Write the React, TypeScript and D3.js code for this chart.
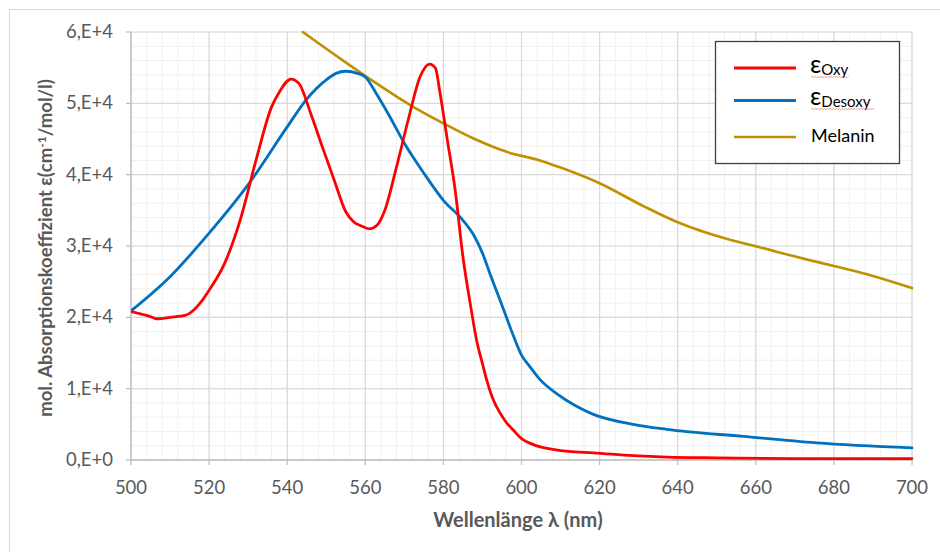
import React from "react";
import * as d3 from "d3";

const oxyNm = [500, 503, 505, 506.5, 510, 514, 516, 518, 520, 524, 528, 532, 536, 538, 541, 543, 546, 549, 552, 555, 557, 559, 561, 563, 565, 568, 571, 574, 576.5, 578, 579, 581, 583, 585, 587, 588.5, 590, 591.1, 592.8, 594.5, 596.2, 597.9, 600, 602, 605, 608, 612, 618.4, 628.6, 637.2, 650, 670, 700];
const oxyVal = [2.08, 2.04, 2.01, 1.98, 2.0, 2.03, 2.1, 2.22, 2.38, 2.76, 3.37, 4.2, 4.95, 5.16, 5.34, 5.28, 4.86, 4.39, 3.93, 3.48, 3.34, 3.28, 3.24, 3.29, 3.5, 4.11, 4.77, 5.37, 5.55, 5.49, 5.19, 4.49, 3.79, 2.85, 2.15, 1.68, 1.35, 1.12, 0.84, 0.66, 0.52, 0.42, 0.3, 0.24, 0.18, 0.15, 0.12, 0.1, 0.06, 0.04, 0.03, 0.02, 0.02];

const desoxyNm = [500, 510, 520, 530, 540, 545, 550, 552.5, 555, 558, 560, 563, 566, 570, 575, 580, 585, 588, 590, 592, 595, 598, 600, 602, 604.7, 609, 613.5, 618.4, 628.6, 637.2, 656.8, 675.6, 700];
const desoxyVal = [2.09, 2.57, 3.18, 3.86, 4.67, 5.06, 5.33, 5.42, 5.45, 5.42, 5.37, 5.12, 4.84, 4.44, 4.02, 3.64, 3.36, 3.13, 2.9, 2.6, 2.17, 1.73, 1.47, 1.32, 1.13, 0.93, 0.77, 0.64, 0.5, 0.43, 0.33, 0.24, 0.17];

const melaninNm = [544, 553.5, 561.2, 571.4, 580, 587.6, 596.2, 604.7, 610, 620, 631.2, 639.7, 652.5, 661.1, 673.9, 680, 690, 700];
const melaninVal = [6.0, 5.63, 5.34, 4.98, 4.72, 4.51, 4.32, 4.2, 4.1, 3.88, 3.56, 3.34, 3.1, 2.98, 2.8, 2.72, 2.58, 2.41];

const xTicks = [500, 520, 540, 560, 580, 600, 620, 640, 660, 680, 700];
const yTicks = [0, 1, 2, 3, 4, 5, 6];
const yTickLabels = ["0,E+0", "1,E+4", "2,E+4", "3,E+4", "4,E+4", "5,E+4", "6,E+4"];

const FONT = "Lato, 'Open Sans', sans-serif";

export default function App() {
  const left = 131, right = 912, top = 32, bottom = 460;
  const x = d3.scaleLinear().domain([500, 700]).range([left, right]);
  const y = d3.scaleLinear().domain([0, 6]).range([bottom, top]);

  const line = d3
    .line<[number, number]>()
    .x((d) => x(d[0]))
    .y((d) => y(d[1]))
    .curve(d3.curveMonotoneX);

  const zip = (a: number[], b: number[]) => a.map((v, i) => [v, b[i]] as [number, number]);

  const minorX = d3.range(500, 700.01, 4);
  const minorY = d3.range(0, 6.001, 0.2);

  const wavy = (x0: number, x1: number, yy: number) => {
    let p = `M${x0},${yy}`;
    let up = true;
    for (let xx = x0 + 1.5; xx <= x1; xx += 1.5) {
      p += ` L${xx},${yy + (up ? -0.8 : 0.8)}`;
      up = !up;
    }
    return p;
  };

  return (
    <svg width={940} height={552} style={{ position: "absolute", left: 0, top: 0, background: "#fff" }}>
      <rect x={9.5} y={9.5} width={940} height={560} fill="#fff" stroke="#d9d9d9" strokeWidth={1} />
      <defs>
        <clipPath id="plot">
          <rect x={left} y={top - 1} width={right - left + 2} height={bottom - top + 2} />
        </clipPath>
      </defs>
      {minorX.map((v) => (
        <line key={"mx" + v} x1={x(v)} x2={x(v)} y1={top} y2={bottom} stroke="#f0f0f0" strokeWidth={1} />
      ))}
      {minorY.map((v) => (
        <line key={"my" + v} x1={left} x2={right} y1={y(v)} y2={y(v)} stroke="#f0f0f0" strokeWidth={1} />
      ))}
      {xTicks.map((v) => (
        <line key={"gx" + v} x1={x(v)} x2={x(v)} y1={top} y2={bottom} stroke="#d9d9d9" strokeWidth={1.2} />
      ))}
      {yTicks.map((v) => (
        <line key={"gy" + v} x1={left} x2={right} y1={y(v)} y2={y(v)} stroke="#d9d9d9" strokeWidth={1.2} />
      ))}
      <line x1={left} x2={left} y1={top} y2={bottom} stroke="#bfbfbf" strokeWidth={1.3} />
      <line x1={left} x2={right} y1={bottom} y2={bottom} stroke="#bfbfbf" strokeWidth={1.3} />
      {yTicks.map((v) => (
        <line key={"ty" + v} x1={left - 5} x2={left} y1={y(v)} y2={y(v)} stroke="#bfbfbf" strokeWidth={1.3} />
      ))}
      {xTicks.map((v) => (
        <line key={"tx" + v} x1={x(v)} x2={x(v)} y1={bottom} y2={bottom + 5} stroke="#bfbfbf" strokeWidth={1.3} />
      ))}
      {yTicks.map((v, i) => (
        <text key={"ly" + v} x={113} y={y(v) + 6} textAnchor="end" fontFamily={FONT} fontSize={18.5} fill="#595959">
          {yTickLabels[i]}
        </text>
      ))}
      {xTicks.map((v) => (
        <text key={"lx" + v} x={x(v)} y={494} textAnchor="middle" fontFamily={FONT} fontSize={18.5} fill="#595959">
          {v}
        </text>
      ))}
      <text x={518} y={527} textAnchor="middle" fontFamily={FONT} fontSize={20} fontWeight="bold" fill="#595959">
        Wellenlänge λ (nm)
      </text>
      <text
        transform="translate(52,248) rotate(-90)"
        textAnchor="middle"
        fontFamily={FONT}
        fontSize={18.5}
        fontWeight="bold"
        fill="#595959"
      >
        mol. Absorptionskoeffizient ε(cm<tspan dy={-6} fontSize={12}>-1</tspan>
        <tspan dy={6}>/mol/l)</tspan>
      </text>
      <g clipPath="url(#plot)" fill="none" strokeLinejoin="round" strokeLinecap="round">
        <path d={line(zip(melaninNm, melaninVal)) || ""} stroke="#bf9000" strokeWidth={2.6} />
        <path d={line(zip(desoxyNm, desoxyVal)) || ""} stroke="#0070c0" strokeWidth={2.8} />
        <path d={line(zip(oxyNm, oxyVal)) || ""} stroke="#ff0000" strokeWidth={2.8} />
      </g>
      <rect x={715.5} y={41.5} width={184} height={122} fill="#fff" stroke="#404040" strokeWidth={1.3} />
      <line x1={734} x2={796} y1={68} y2={68} stroke="#ff0000" strokeWidth={2.8} />
      <line x1={734} x2={796} y1={100.5} y2={100.5} stroke="#0070c0" strokeWidth={2.8} />
      <line x1={734} x2={796} y1={137} y2={137} stroke="#bf9000" strokeWidth={2.6} />
      <text x={810} y={73} fontFamily={FONT} fontSize={25} fill="#000">
        ε<tspan fontSize={15} dy={2}>Oxy</tspan>
      </text>
      <text x={810} y={105} fontFamily={FONT} fontSize={25} fill="#000">
        ε<tspan fontSize={15} dy={2}>Desoxy</tspan>
      </text>
      <text x={811} y={142} fontFamily={FONT} fontSize={18} fill="#000">
        Melanin
      </text>
      <path d={wavy(811, 849, 77)} stroke="#ff6666" strokeWidth={0.7} fill="none" />
      <path d={wavy(811, 874, 109)} stroke="#ff6666" strokeWidth={0.7} fill="none" />
    </svg>
  );
}
